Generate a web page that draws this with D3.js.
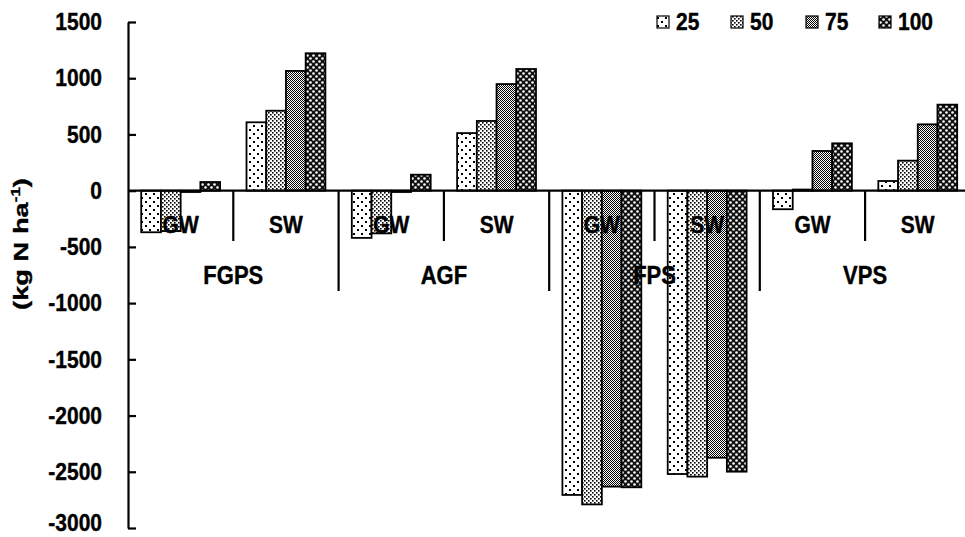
<!DOCTYPE html>
<html>
<head>
<meta charset="utf-8">
<script src="https://cdn.jsdelivr.net/npm/d3@7"></script>
<style>
  html, body { margin: 0; padding: 0; background: #fff; }
  svg { display: block; }
  text { font-family: "Liberation Sans", Arial, sans-serif; font-weight: bold; fill: #000; stroke: #000; stroke-width: 0.35px; }
</style>
</head>
<body>
<svg id="chart" width="965" height="537"></svg>
<script>
// ---- data ----
const groups = ["FGPS", "AGF", "FPS", "VPS"];
const subCats = ["GW", "SW"];
const series = ["25", "50", "75", "100"];
const categories = ["FGPS GW", "FGPS SW", "AGF GW", "AGF SW", "FPS GW", "FPS SW", "VPS GW", "VPS SW"];
const values25  = [-370,  608, -420,  512, -2706, -2520, -165,   86];
const values50  = [-360,  711, -380,  620, -2790, -2543,   10,  267];
const values75  = [ -12, 1065,  -12,  948, -2632, -2375,  353,  590];
const values100 = [  77, 1222,  142, 1082, -2638, -2499,  421,  765];
const yTicks = [1500, 1000, 500, 0, -500, -1000, -1500, -2000, -2500, -3000];
const yTitle = "(kg N ha";

const seriesValues = [values25, values50, values75, values100];
const SY = 1.15; // vertical stretch of text seen in the reference

const svg = d3.select("#chart");
const defs = svg.append("defs");

// patterns
function pat(id, w, h, build) {
  const p = defs.append("pattern").attr("id", id).attr("patternUnits", "userSpaceOnUse")
    .attr("width", w).attr("height", h);
  build(p);
}
pat("p25", 8, 8, p => {
  p.append("rect").attr("width", 8).attr("height", 8).attr("fill", "#fff");
  p.append("rect").attr("x", 1).attr("y", 1).attr("width", 2).attr("height", 2).attr("fill", "#000");
  p.append("rect").attr("x", 5).attr("y", 5).attr("width", 2).attr("height", 2).attr("fill", "#000");
});
pat("p50", 4, 4, p => {
  p.append("rect").attr("width", 4).attr("height", 4).attr("fill", "#fff");
  p.append("rect").attr("x", 0).attr("y", 0).attr("width", 1.6).attr("height", 1.6).attr("fill", "#000");
  p.append("rect").attr("x", 2).attr("y", 2).attr("width", 1.6).attr("height", 1.6).attr("fill", "#000");
});
pat("p75", 2, 2, p => {
  p.append("rect").attr("width", 2).attr("height", 2).attr("fill", "#fff");
  p.append("rect").attr("x", 0).attr("y", 0).attr("width", 1).attr("height", 1).attr("fill", "#000");
  p.append("rect").attr("x", 1).attr("y", 1).attr("width", 1).attr("height", 1).attr("fill", "#000");
});
pat("p100", 6, 6, p => {
  p.append("rect").attr("width", 6).attr("height", 6).attr("fill", "#111");
  p.append("circle").attr("cx", 1.5).attr("cy", 1.5).attr("r", 1.3).attr("fill", "#fff");
  p.append("circle").attr("cx", 4.5).attr("cy", 4.5).attr("r", 1.3).attr("fill", "#fff");
});
const fills = ["url(#p25)", "url(#p50)", "url(#p75)", "url(#p100)"];

// scales
const left = 128;
const catW = 105.3;
const x = d3.scaleBand().domain(categories).range([left, left + catW * categories.length]).padding(0);
const xi = d3.scaleBand().domain(series).range([0, x.bandwidth()]).paddingInner(0).paddingOuter(0.67);
const y = d3.scaleLinear().domain([-3000, 1500]).range([528, 22]);

// bars
series.forEach((s, si) => {
  svg.append("g").selectAll("rect").data(categories).join("rect")
    .attr("x", c => x(c) + xi(s))
    .attr("width", xi.bandwidth())
    .attr("y", (c, i) => y(Math.max(0, seriesValues[si][i])))
    .attr("height", (c, i) => Math.abs(y(seriesValues[si][i]) - y(0)))
    .attr("fill", fills[si])
    .attr("stroke", "#000")
    .attr("stroke-width", 1.8);
});

// zero line
svg.append("line").attr("x1", left).attr("x2", 965).attr("y1", y(0)).attr("y2", y(0))
  .attr("stroke", "#000").attr("stroke-width", 2.2);

// y axis
const yAxis = d3.axisLeft(y).tickValues(yTicks).tickSizeInner(-8).tickSizeOuter(0).tickPadding(26)
  .tickFormat(d => String(d));
const ga = svg.append("g").attr("transform", `translate(${left},0)`).call(yAxis);
ga.select(".domain").attr("stroke", "#000").attr("stroke-width", 2.2);
ga.selectAll(".tick line").attr("stroke", "#000").attr("stroke-width", 2.2);
ga.selectAll(".tick text").style("font-size", "21px").style("font-family", "'Liberation Sans', Arial, sans-serif")
  .style("font-weight", "bold").attr("fill", "#000")
  .attr("transform", d => `translate(0,${d === -3000 ? -5 : 0}) scale(1,${SY})`);

// category separators
for (let i = 1; i <= categories.length; i++) {
  const bx = left + catW * i;
  const long = i % 2 === 0;
  svg.append("line").attr("x1", bx).attr("x2", bx).attr("y1", y(0)).attr("y2", long ? 291 : 241)
    .attr("stroke", "#000").attr("stroke-width", 2.2);
}

function label(X, Y, txt, size, anchor) {
  return svg.append("text")
    .attr("transform", `translate(${X},${Y}) scale(1,${SY})`)
    .attr("text-anchor", anchor || "middle")
    .style("font-size", size + "px")
    .text(txt);
}

// sub category labels
categories.forEach((c, i) => label(x(c) + x.bandwidth() / 2, 233, subCats[i % 2], 21));

// group labels
groups.forEach((g, i) => label(x(categories[i * 2 + 1]), 284, g, 22));

// y title
const yt = svg.append("text")
  .attr("transform", "translate(28,244) rotate(-90) scale(1.3,1)")
  .attr("text-anchor", "middle")
  .style("font-size", "21px");
yt.append("tspan").text(yTitle);
yt.append("tspan").attr("dy", -8).style("font-size", "13px").text("-1");
yt.append("tspan").attr("dy", 8).text(")");

// legend
const legendX = [657, 731, 806, 879];
series.forEach((s, si) => {
  svg.append("rect").attr("x", legendX[si]).attr("y", 16).attr("width", 12).attr("height", 12)
    .attr("fill", fills[si]).attr("stroke", "#000").attr("stroke-width", 1.2);
  label(legendX[si] + 19, 30, s, 21, "start");
});
</script>
</body>
</html>
